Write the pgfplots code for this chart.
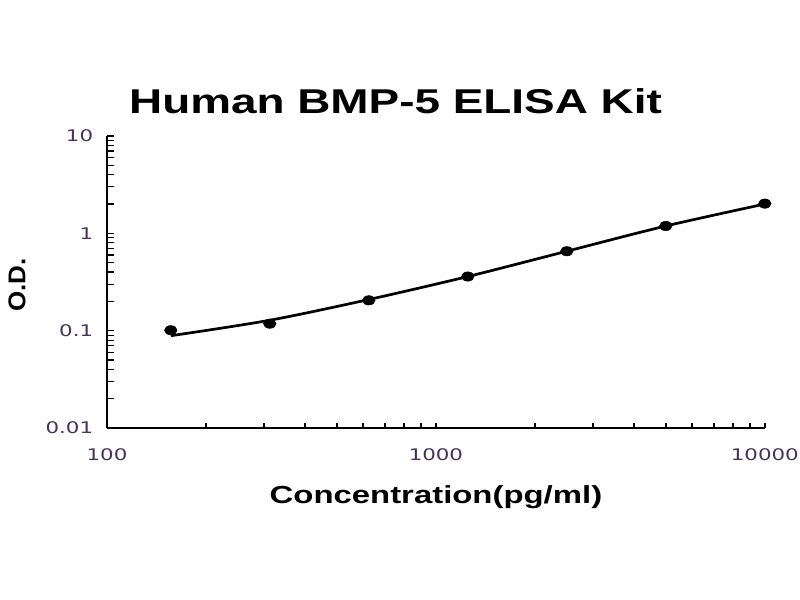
\documentclass[border=0pt]{standalone}
\usepackage{pgfplots}
\pgfplotsset{compat=1.18}
\usepackage{fontspec}
\setmainfont{Liberation Sans}
\newfontfamily\dejavu{DejaVu Sans}
\definecolor{ticktxt}{RGB}{70,50,90}

\begin{document}
\scalebox{1.33333}[1]{%
\begin{tikzpicture}
\useasboundingbox (0,0) rectangle (450bp,450bp);
\begin{axis}[
    at={(60.2bp,129bp)}, anchor=south west,
    scale only axis,
    width=370bp, height=219bp,
    xmode=log, ymode=log,
    xmin=100, xmax=10000,
    ymin=0.01, ymax=10,
    axis lines=left,
    axis line style={-, line width=1.1bp},
    tick align=inside,
    major tick length=3.8bp,
    minor tick length=3.8bp,
    every tick/.style={black, line width=0.9bp},
    xtick={100,1000,10000},
    xticklabels={100,1000,10000},
    ytick={0.01,0.1,1,10},
    yticklabels={0.01,0.1,1,10},
    /pgf/number format/assume math mode=true,
    ticklabel style={font=\dejavu\fontsize{12bp}{14bp}\selectfont, text=ticktxt},
    xticklabel style={yshift=-12.3bp},
    yticklabel style={xshift=-4.3bp},
    title={Human BMP-5 ELISA Kit},
    title style={at={(0.4386,1.05)}, anchor=base, font=\bfseries\fontsize{25.8bp}{30bp}\selectfont},
    xlabel={Concentration(pg/ml)},
    xlabel style={at={(0.5,-0.26)}, anchor=base, font=\bfseries\fontsize{18.5bp}{22bp}\selectfont},
    ylabel={\scalebox{1}[0.7]{O.D.}},
    ylabel style={at={(-0.137,0.489)}, anchor=center, font=\bfseries\fontsize{19.5bp}{23bp}\selectfont},
    clip=false,
    ]
  % fitted standard curve
  \addplot[black, line width=2bp, smooth] coordinates {
    (156.25,0.0887) (312.5,0.128) (625,0.209) (1250,0.36)
    (2500,0.655) (5000,1.19) (10000,2.0)
  };
  % measured standards
  \addplot[only marks, mark=*, mark size=3.5bp, black] coordinates {
    (156.25,0.101) (312.5,0.118) (625,0.205) (1250,0.36)
    (2500,0.655) (5000,1.19) (10000,2.02)
  };
\end{axis}
\end{tikzpicture}}
\end{document}
